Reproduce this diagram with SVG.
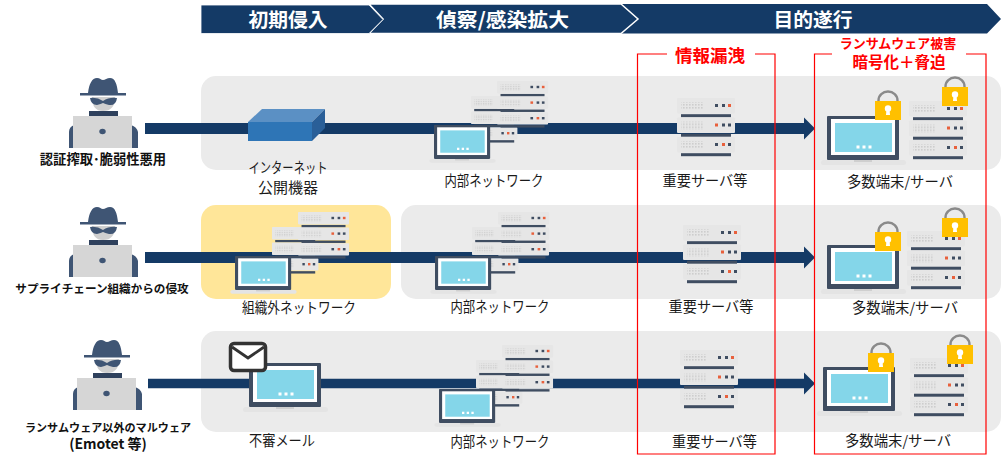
<svg xmlns="http://www.w3.org/2000/svg" width="1001" height="461" viewBox="0 0 1001 461">
<style>
text{font-family:"Noto Sans CJK JP","Liberation Sans",sans-serif;text-anchor:middle}
.lb{font-size:14.500px;fill:#1a1a1a}
.src{font-size:11.600px;font-weight:700;fill:#111}
.hd{font-size:19.800px;font-weight:700;fill:#fff}
.red{font-weight:700;fill:#f00}
.band{fill:#ebebeb}
.cn{stroke:#143a66;stroke-width:11;fill:none;marker-end:url(#head)}
.rb{fill:none;stroke:#f00;stroke-width:1.200}
</style>
<defs>
<marker id="head" markerUnits="userSpaceOnUse" markerWidth="14" markerHeight="24" refX="1" refY="12" orient="auto"><path d="M1 1 L12 12 L1 23 Z" fill="#143a66"/></marker>
<pattern id="grid" width="3" height="3" patternUnits="userSpaceOnUse"><rect width="1.600" height="1.600" fill="#cdcdcd"/></pattern>
<g id="unit"><rect width="58" height="15.500" rx="1" fill="#e6e6e6"/><rect x="4" y="4" width="23" height="8" fill="url(#grid)"/><rect x="4" y="16.200" width="50" height="3" fill="#3f4d61"/></g>
<g id="rack">
<use href="#unit"/><rect x="38" y="6" width="3" height="3" fill="#3f4d61"/><rect x="45" y="6" width="3" height="3" fill="#3f4d61"/><rect x="51" y="6" width="3" height="3" fill="#e8603c"/>
<use href="#unit" y="19.500"/><rect x="38" y="25.500" width="3" height="3" fill="#e8603c"/><rect x="45" y="25.500" width="3" height="3" fill="#3f4d61"/><rect x="51" y="25.500" width="3" height="3" fill="#3f4d61"/>
<use href="#unit" y="39"/><rect x="38" y="45" width="3" height="3" fill="#3f4d61"/><rect x="45" y="45" width="3" height="3" fill="#e8603c"/><rect x="51" y="45" width="3" height="3" fill="#3f4d61"/>
</g>
<g id="laptop">
<rect x="-6" y="44" width="85" height="5" rx="2.500" fill="#e4e4e4"/><rect x="27" y="44" width="18" height="2" fill="#cfcfcf"/>
<rect width="72" height="44" rx="1" fill="#3f4d61"/><rect x="4" y="3" width="64" height="36" fill="#fff"/><rect x="8" y="7" width="57" height="29" fill="#84d6e9"/>
<rect x="29.500" y="29.500" width="3" height="3" fill="#fff"/><rect x="35.500" y="29.500" width="3" height="3" fill="#fff"/><rect x="41.500" y="29.500" width="3" height="3" fill="#fff"/>
</g>
<g id="lock">
<path d="M3.500 2 V-0.500 A9.500 9 0 0 1 22.500 -0.500 V2" fill="none" stroke="#8a8a8a" stroke-width="2.400"/>
<rect y="0" width="26" height="19" fill="#ffc000"/><circle cx="13" cy="7.500" r="3.200" fill="#fff"/><path d="M11.500 8 H14.500 L15 14 H11 Z" fill="#fff"/>
</g>
<g id="cluster">
<use href="#rack" transform="translate(37 -29) scale(.8)"/>
<use href="#rack" transform="translate(63 -44) scale(.88 .8)"/>
<use href="#laptop" transform="scale(.78 .77)"/>
</g>
<g id="hacker">
<path d="M69 148 V132 Q69 127 74 125 V148 Z M131 125 Q137 127 138 132 V148 H131 Z" fill="#3f5574"/>
<path d="M92 97 Q92 111 103 111 Q115 111 115 97 Z" fill="#cfcfcf"/>
<path d="M90 98 Q97 97 103 101 Q109 97 117 98 Q116 106 109 105 Q105 104 103 103 Q101 104 97 105 Q91 105 90 98 Z" fill="#3f5574"/>
<path d="M88 93 C89 84 92 78 97 78 C100 78 101 80 103 80 C105 80 107 78 110 78 C115 78 117 84 118 93 L126 93 V95.500 H80 V93 Z" fill="#3f5574"/>
<rect x="89" y="111" width="29" height="5.500" fill="#2f415d"/>
<rect x="73" y="116" width="59" height="32" fill="#d6d6d6"/>
<ellipse cx="102.500" cy="131.500" rx="3.200" ry="2.800" fill="#3f5574"/>
</g>
</defs>

<g id="bands">
<rect class="band" x="201" y="76" width="800" height="94" rx="15"/>
<rect x="201" y="205" width="190" height="94" rx="15" fill="#ffe699"/>
<rect class="band" x="401" y="205" width="600" height="94" rx="15"/>
<rect class="band" x="201" y="331" width="800" height="101" rx="15"/>
</g>

<g id="phase-bar">
<path id="ph3" d="M620 4 H987 L1001 19 L987 33.500 H620 L636 19 Z" fill="#143a66"/>
<path id="ph2" d="M369 4 H621 L638 19 L621 33.500 H369 L383 19 Z" fill="#143a66" stroke="#fff" stroke-width="1.500"/>
<path id="ph1" d="M201 5 H369 L383 19.500 L369 33.500 H201 Z" fill="#143a66" stroke="#fff" stroke-width=".8"/>
<text class="hd" x="288" y="26.500">初期侵入</text>
<text class="hd" x="502.500" y="26.500" textLength="133" lengthAdjust="spacingAndGlyphs">偵察/感染拡大</text>
<text class="hd" x="813" y="26.500">目的遂行</text>
</g>

<g id="connectors">
<line class="cn" x1="145" y1="128.500" x2="804" y2="128.500"/>
<line class="cn" x1="145" y1="257.500" x2="804" y2="257.500"/>
<line class="cn" x1="148" y1="383.500" x2="804" y2="383.500" style="stroke-width:9.500"/>
</g>

<g id="row1">
<g id="src1"><use href="#hacker"/><text class="src" x="103" y="164" style="font-size:13.300px">認証搾取･脆弱性悪用</text></g>
<g id="n-device">
<path d="M248 122 L262 109 H325 L312 122 Z" fill="#5b90c4"/><path d="M312 122 L325 109 V128 L312 141 Z" fill="#2a5f98"/><rect x="248" y="122" width="64" height="19" fill="#2e75b6"/>
<text class="lb" x="288" y="173" textLength="79" lengthAdjust="spacingAndGlyphs">インターネット</text><text class="lb" x="288" y="193" textLength="60" lengthAdjust="spacingAndGlyphs">公開機器</text></g>
<g id="n-int1"><use href="#cluster" x="434" y="125"/><text class="lb" x="494" y="186" textLength="99" lengthAdjust="spacingAndGlyphs">内部ネットワーク</text></g>
<g id="n-srv1"><use href="#rack" x="677" y="98"/><text class="lb" x="705" y="186" textLength="85" lengthAdjust="spacingAndGlyphs">重要サーバ等</text></g>
<g id="n-end1"><use href="#laptop" x="827" y="116"/><use href="#rack" x="909" y="101"/><use href="#lock" x="875" y="101"/><use href="#lock" x="942" y="87"/><text class="lb" x="900" y="187" textLength="106" lengthAdjust="spacingAndGlyphs">多数端末/サーバ</text></g>
</g>

<g id="row2">
<g id="src2"><use href="#hacker" y="129"/><text class="src" x="102" y="293">サプライチェーン組織からの侵攻</text></g>
<g id="n-ext"><use href="#cluster" x="235" y="256"/><text class="lb" x="299" y="313" textLength="114" lengthAdjust="spacingAndGlyphs">組織外ネットワーク</text></g>
<g id="n-int2"><use href="#cluster" x="435" y="256"/><text class="lb" x="500" y="312" textLength="99" lengthAdjust="spacingAndGlyphs">内部ネットワーク</text></g>
<g id="n-srv2"><use href="#rack" x="683" y="225"/><text class="lb" x="711" y="312" textLength="85" lengthAdjust="spacingAndGlyphs">重要サーバ等</text></g>
<g id="n-end2"><use href="#laptop" x="827" y="245"/><use href="#rack" x="907" y="231"/><use href="#lock" x="875" y="232"/><use href="#lock" x="942" y="218"/><text class="lb" x="905" y="313" textLength="106" lengthAdjust="spacingAndGlyphs">多数端末/サーバ</text></g>
</g>

<g id="row3">
<g id="src3"><use href="#hacker" transform="translate(4 262)"/><text class="src" x="108" y="432" style="font-size:11.100px">ランサムウェア以外のマルウェア</text><text class="src" x="108" y="449" style="font-size:14px">(Emotet 等)</text></g>
<g id="n-mail"><use href="#laptop" x="249" y="363"/>
<rect x="230.500" y="343.500" width="35" height="27" rx="3.500" fill="#fff" stroke="#333" stroke-width="3.500"/><path d="M232 347 L248 358 L264 347" fill="none" stroke="#333" stroke-width="2.800"/>
<text class="lb" x="282" y="446" textLength="66" lengthAdjust="spacingAndGlyphs">不審メール</text></g>
<g id="n-int3"><use href="#cluster" x="439" y="389"/><text class="lb" x="500" y="447" textLength="99" lengthAdjust="spacingAndGlyphs">内部ネットワーク</text></g>
<g id="n-srv3"><use href="#rack" x="680" y="350"/><text class="lb" x="714.500" y="447" textLength="85" lengthAdjust="spacingAndGlyphs">重要サーバ等</text></g>
<g id="n-end3"><use href="#laptop" x="823" y="367"/><use href="#rack" x="910" y="358"/><use href="#lock" x="868" y="353"/><use href="#lock" x="947" y="345"/><text class="lb" x="898" y="446" textLength="106" lengthAdjust="spacingAndGlyphs">多数端末/サーバ</text></g>
</g>

<g id="scope-leak">
<path class="rb" d="M667 54 H637.500 V454 H775 V54 H755"/>
<text class="red" x="710" y="62" style="font-size:17.500px">情報漏洩</text>
</g>
<g id="scope-ransom">
<path class="rb" d="M832 54 H814.500 V454 H986 V54 H966"/>
<text class="red" x="898" y="48" style="font-size:13px">ランサムウェア被害</text>
<text class="red" x="899" y="68" style="font-size:15.500px">暗号化＋脅迫</text>
</g>
</svg>
